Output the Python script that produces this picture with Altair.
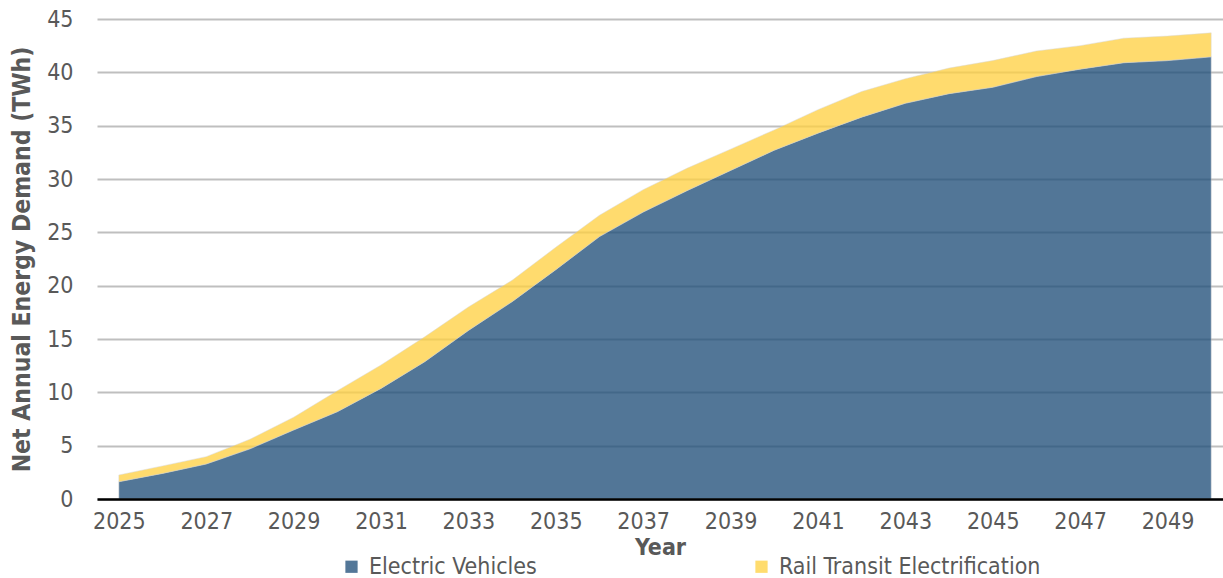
import altair as alt
import pandas as pd

years = list(range(2025, 2051))
ev = [1.62, 2.4, 3.28, 4.7, 6.47, 8.18, 10.37, 12.87, 15.8, 18.5, 21.5, 24.6, 26.9,
      28.9, 30.8, 32.7, 34.3, 35.8, 37.1, 38.0, 38.6, 39.6, 40.3, 40.9, 41.1, 41.45]
rail = [0.63, 0.7, 0.69, 0.9, 1.19, 1.97, 2.19, 2.33, 2.2, 2.0, 2.1, 2.0, 2.1,
        2.1, 2.0, 1.9, 2.2, 2.4, 2.3, 2.4, 2.5, 2.4, 2.2, 2.3, 2.3, 2.25]
series = ["Electric Vehicles", "Rail Transit Electrification"]
colors = ["#1F4E79", "#FFD143"]
x_ticks = list(range(2025, 2050, 2))
y_ticks = list(range(0, 50, 5))

rows = []
for i, y in enumerate(years):
    rows.append({"Year": y, "Series": series[0], "Value": ev[i], "ord": 0})
    rows.append({"Year": y, "Series": series[1], "Value": rail[i], "ord": 1})
df = pd.DataFrame(rows)

FONT = "DejaVu Sans Condensed, DejaVu Sans"
GRAY = "#595959"

chart = alt.Chart(df).mark_area(
    opacity=0.77, stroke="#cfcfcf", strokeWidth=0.8, strokeOpacity=0.6
).encode(
    x=alt.X("Year:Q",
            scale=alt.Scale(domain=[2024.5, 2050.27], nice=False, zero=False),
            axis=alt.Axis(values=x_ticks, format="d", title="Year", grid=False,
                          ticks=False, domainColor="#000000", domainWidth=2.5,
                          labelPadding=11, titlePadding=3, zindex=1)),
    y=alt.Y("Value:Q", stack="zero",
            scale=alt.Scale(domain=[0, 45], nice=False),
            axis=alt.Axis(values=y_ticks, title="Net Annual Energy Demand (TWh)",
                          domain=False, ticks=False, labelPadding=24,
                          titleFontSize=24.5,
                          gridColor="#bfbfbf", gridWidth=2, titlePadding=12)),
    color=alt.Color("Series:N",
                    scale=alt.Scale(domain=series, range=colors),
                    legend=alt.Legend(title=None, orient="none", direction="horizontal",
                                      legendX=243, legendY=536, columnPadding=213,
                                      symbolType="square", symbolSize=150,
                                      symbolOpacity=0.77, symbolStrokeWidth=0,
                                      labelFontSize=23, labelColor=GRAY, labelLimit=500,
                                      labelFont=FONT, labelOffset=6)),
    order=alt.Order("ord:Q"),
).properties(
    width=1126, height=480,
    autosize=alt.AutoSizeParams(type="none"),
    padding={"left": 97, "top": 19, "right": 0, "bottom": 79},
).configure_view(stroke=None).configure_axis(
    labelFont=FONT, labelFontSize=23, labelColor=GRAY,
    titleFont=FONT, titleFontSize=23, titleColor=GRAY, titleFontWeight="bold",
)

chart.save("out.html", embed_options={"renderer": "svg", "actions": False})
